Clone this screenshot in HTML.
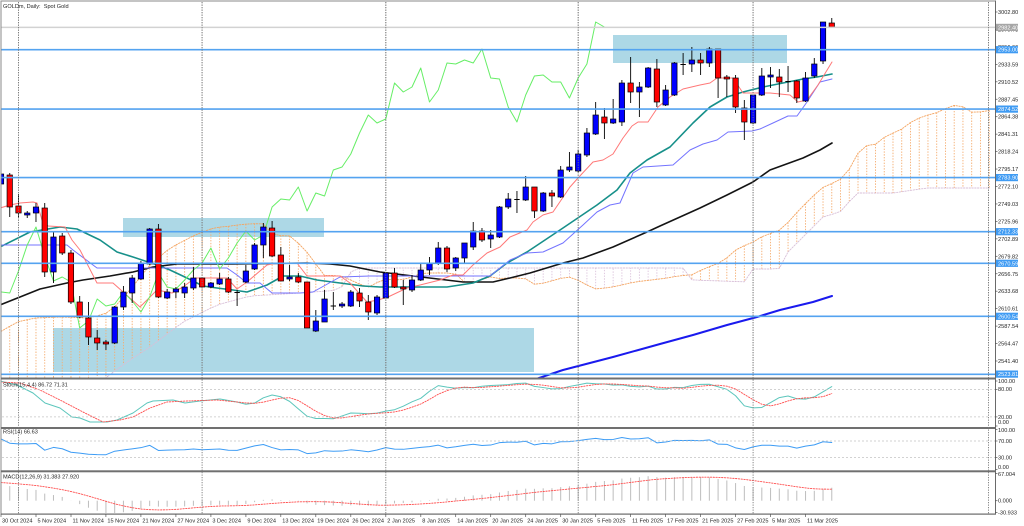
<!DOCTYPE html>
<html><head><meta charset="utf-8">
<style>
html,body{margin:0;padding:0;background:#fff;width:1024px;height:526px;overflow:hidden}
svg{display:block}
text{font-family:"Liberation Sans",Arial,sans-serif;font-size:5.6px;fill:#262626}
.w{fill:#fff}
</style></head><body>
<svg id="c" width="1024" height="526" viewBox="0 0 1024 526" xmlns="http://www.w3.org/2000/svg">
<defs>
<clipPath id="cm"><rect x="1.5" y="2" width="993.5" height="375.5"/></clipPath>
<clipPath id="cs"><rect x="1.5" y="379.5" width="993.5" height="134"/></clipPath>
</defs>
<rect width="1024" height="526" fill="#fff"/>
<g id="main" clip-path="url(#cm)"></g>
<g id="subs" clip-path="url(#cs)"></g>
<g id="top" clip-path="url(#cm)"></g>
<!-- frame -->
<rect x="0.5" y="0.5" width="1" height="514" fill="#8a8a8a"/>
<rect x="0.5" y="0.5" width="995" height="1" fill="#8a8a8a"/>
<rect x="995" y="0.5" width="1" height="514" fill="#6a6a6a"/>
<rect x="1" y="377.5" width="994" height="2" fill="#707070"/>
<rect x="1" y="427" width="994" height="2" fill="#707070"/>
<rect x="1" y="470.3" width="994" height="2" fill="#707070"/>
<rect x="1" y="513.5" width="995" height="1.2" fill="#6a6a6a"/>
<g stroke="#7a7a7a" stroke-width="0.9" stroke-dasharray="1.2,1.3">
<line x1="18.5" y1="2" x2="18.5" y2="513.5"/>
<line x1="202.1" y1="2" x2="202.1" y2="513.5"/>
<line x1="385.8" y1="2" x2="385.8" y2="513.5"/>
<line x1="578.2" y1="2" x2="578.2" y2="513.5"/>
<line x1="753.1" y1="2" x2="753.1" y2="513.5"/>
<line x1="988.5" y1="2" x2="988.5" y2="513.5"/>
</g>
<!-- sub panel levels -->
<g stroke="#c4c4c4" stroke-width="0.8" stroke-dasharray="2,2">
<line x1="2" y1="389.6" x2="995" y2="389.6"/>
<line x1="2" y1="416.9" x2="995" y2="416.9"/>
<line x1="2" y1="441" x2="995" y2="441"/>
<line x1="2" y1="457.5" x2="995" y2="457.5"/>
</g>
<!-- title & panel labels -->
<text x="3" y="7.8">GOLDm, Daily:&#160; Spot Gold</text>
<text x="3" y="386.5">Stoch(15,4,4) 86.72 71.31</text>
<text x="3" y="433.5">RSI(14) 66.63</text>
<text x="3" y="478.5">MACD(12,26,9) 31.383 27.920</text>
<!-- price axis ticks -->
<g stroke="#555" stroke-width="0.7">
<line x1="995" x2="997.5" y1="12" y2="12"/><line x1="995" x2="997.5" y1="29.45" y2="29.45"/><line x1="995" x2="997.5" y1="46.9" y2="46.9"/><line x1="995" x2="997.5" y1="64.35" y2="64.35"/><line x1="995" x2="997.5" y1="81.8" y2="81.8"/><line x1="995" x2="997.5" y1="99.25" y2="99.25"/><line x1="995" x2="997.5" y1="116.7" y2="116.7"/><line x1="995" x2="997.5" y1="134.15" y2="134.15"/><line x1="995" x2="997.5" y1="151.6" y2="151.6"/><line x1="995" x2="997.5" y1="169.05" y2="169.05"/><line x1="995" x2="997.5" y1="186.5" y2="186.5"/><line x1="995" x2="997.5" y1="203.95" y2="203.95"/><line x1="995" x2="997.5" y1="221.4" y2="221.4"/><line x1="995" x2="997.5" y1="238.85" y2="238.85"/><line x1="995" x2="997.5" y1="256.3" y2="256.3"/><line x1="995" x2="997.5" y1="273.75" y2="273.75"/><line x1="995" x2="997.5" y1="291.2" y2="291.2"/><line x1="995" x2="997.5" y1="308.65" y2="308.65"/><line x1="995" x2="997.5" y1="326.1" y2="326.1"/><line x1="995" x2="997.5" y1="343.55" y2="343.55"/><line x1="995" x2="997.5" y1="361" y2="361"/>
<line x1="995" x2="997.5" y1="381" y2="381"/><line x1="995" x2="997.5" y1="389.6" y2="389.6"/><line x1="995" x2="997.5" y1="416.9" y2="416.9"/><line x1="995" x2="997.5" y1="426" y2="426"/>
<line x1="995" x2="997.5" y1="429.5" y2="429.5"/><line x1="995" x2="997.5" y1="441" y2="441"/><line x1="995" x2="997.5" y1="457.5" y2="457.5"/><line x1="995" x2="997.5" y1="469.5" y2="469.5"/>
<line x1="995" x2="997.5" y1="473.5" y2="473.5"/><line x1="995" x2="997.5" y1="500.7" y2="500.7"/><line x1="995" x2="997.5" y1="512.5" y2="512.5"/>
</g>
<g>
<text x="998" y="14">3002.80</text>
<text x="998" y="31.45">2979.73</text>
<text x="998" y="48.9">2956.66</text>
<text x="998" y="66.35">2933.59</text>
<text x="998" y="83.8">2910.52</text>
<text x="998" y="101.25">2887.45</text>
<text x="998" y="118.7">2864.38</text>
<text x="998" y="136.15">2841.31</text>
<text x="998" y="153.6">2818.24</text>
<text x="998" y="171.05">2795.17</text>
<text x="998" y="188.5">2772.10</text>
<text x="998" y="205.95">2749.03</text>
<text x="998" y="223.4">2725.96</text>
<text x="998" y="240.85">2702.89</text>
<text x="998" y="258.3">2679.82</text>
<text x="998" y="275.75">2656.75</text>
<text x="998" y="293.2">2633.68</text>
<text x="998" y="310.65">2610.61</text>
<text x="998" y="328.1">2587.54</text>
<text x="998" y="345.55">2564.47</text>
<text x="998" y="363">2541.40</text>
</g>
<!-- highlighted price labels -->
<rect x="996" y="23.8" width="22" height="7.2" fill="#a6a6a6"/><text class="w" x="998" y="29.4">2982.40</text>
<rect x="996" y="46.1" width="22" height="7.2" fill="#3f9bf3"/><text class="w" x="998" y="51.7">2953.00</text>
<rect x="996" y="105.5" width="22" height="7.2" fill="#3f9bf3"/><text class="w" x="998" y="111.1">2874.52</text>
<rect x="996" y="174" width="22" height="7.2" fill="#3f9bf3"/><text class="w" x="998" y="179.6">2783.90</text>
<rect x="996" y="228.1" width="22" height="7.2" fill="#3f9bf3"/><text class="w" x="998" y="233.7">2712.33</text>
<rect x="996" y="259.7" width="22" height="7.2" fill="#3f9bf3"/><text class="w" x="998" y="265.3">2670.59</text>
<rect x="996" y="312.7" width="22" height="7.2" fill="#3f9bf3"/><text class="w" x="998" y="318.3">2600.54</text>
<rect x="996" y="370.5" width="22" height="7.2" fill="#3f9bf3"/><text class="w" x="998" y="376.1">2523.81</text>
<!-- sub panel scale labels -->
<text x="998" y="383">100.00</text>
<text x="998" y="391.2">80.00</text>
<text x="998" y="419">20.00</text>
<text x="998" y="424">0.00</text>
<text x="998" y="432.2">100.00</text>
<text x="998" y="442.9">70.00</text>
<text x="998" y="459.4">30.00</text>
<text x="998" y="469.2">0.00</text>
<text x="998" y="476.2">67.004</text>
<text x="998" y="502.7">0.000</text>
<text x="998" y="514.3">-30.933</text>
<!-- time axis -->
<g stroke="#555" stroke-width="0.7">
<line x1="1" x2="1" y1="514" y2="517"/><line x1="36" x2="36" y1="514" y2="517"/><line x1="71" x2="71" y1="514" y2="517"/><line x1="105.9" x2="105.9" y1="514" y2="517"/><line x1="140.9" x2="140.9" y1="514" y2="517"/><line x1="175.9" x2="175.9" y1="514" y2="517"/><line x1="210.9" x2="210.9" y1="514" y2="517"/><line x1="245.9" x2="245.9" y1="514" y2="517"/><line x1="280.8" x2="280.8" y1="514" y2="517"/><line x1="315.8" x2="315.8" y1="514" y2="517"/><line x1="350.8" x2="350.8" y1="514" y2="517"/><line x1="385.8" x2="385.8" y1="514" y2="517"/><line x1="420.8" x2="420.8" y1="514" y2="517"/><line x1="455.7" x2="455.7" y1="514" y2="517"/><line x1="490.7" x2="490.7" y1="514" y2="517"/><line x1="525.7" x2="525.7" y1="514" y2="517"/><line x1="560.7" x2="560.7" y1="514" y2="517"/><line x1="595.7" x2="595.7" y1="514" y2="517"/><line x1="630.6" x2="630.6" y1="514" y2="517"/><line x1="665.6" x2="665.6" y1="514" y2="517"/><line x1="700.6" x2="700.6" y1="514" y2="517"/><line x1="735.6" x2="735.6" y1="514" y2="517"/><line x1="770.6" x2="770.6" y1="514" y2="517"/><line x1="805.5" x2="805.5" y1="514" y2="517"/>
</g>
<g>
<text x="2" y="522.5">30 Oct 2024</text>
<text x="37.5" y="522.5">5 Nov 2024</text>
<text x="72.5" y="522.5">11 Nov 2024</text>
<text x="107.4" y="522.5">15 Nov 2024</text>
<text x="142.4" y="522.5">21 Nov 2024</text>
<text x="177.4" y="522.5">27 Nov 2024</text>
<text x="212.4" y="522.5">3 Dec 2024</text>
<text x="247.4" y="522.5">9 Dec 2024</text>
<text x="282.3" y="522.5">13 Dec 2024</text>
<text x="317.3" y="522.5">19 Dec 2024</text>
<text x="352.3" y="522.5">26 Dec 2024</text>
<text x="387.3" y="522.5">2 Jan 2025</text>
<text x="422.3" y="522.5">8 Jan 2025</text>
<text x="457.2" y="522.5">14 Jan 2025</text>
<text x="492.2" y="522.5">20 Jan 2025</text>
<text x="527.2" y="522.5">24 Jan 2025</text>
<text x="562.2" y="522.5">30 Jan 2025</text>
<text x="597.2" y="522.5">5 Feb 2025</text>
<text x="632.1" y="522.5">11 Feb 2025</text>
<text x="667.1" y="522.5">17 Feb 2025</text>
<text x="702.1" y="522.5">21 Feb 2025</text>
<text x="737.1" y="522.5">27 Feb 2025</text>
<text x="772.1" y="522.5">5 Mar 2025</text>
<text x="807" y="522.5">11 Mar 2025</text>
</g>
</svg>
<script>
(function(){
const NS='http://www.w3.org/2000/svg';
function mk(t,a,p){const e=document.createElementNS(NS,t);for(const k in a)e.setAttribute(k,a[k]);p.appendChild(e);return e;}
const M=document.getElementById('main'),S=document.getElementById('subs'),TP=document.getElementById('top');
const X=i=>1+8.745*i;
function pl(pts,p,st){return mk('polyline',Object.assign({points:pts.map(q=>q[0].toFixed(2)+','+q[1].toFixed(2)).join(' '),fill:'none','stroke-linejoin':'round','stroke-linecap':'round'},st),p);}
function ip(P,x){if(x<=P[0][0])return P[0][1];for(let i=1;i<P.length;i++){if(x<=P[i][0]){const a=P[i-1],b=P[i];return a[1]+(b[1]-a[1])*(x-a[0])/(b[0]-a[0]);}}return P[P.length-1][1];}
const C=[
[174,184,172,186,'b'],[175,207,173,217,'r'],[206,213,194,218,'r'],[213,215,211,218,'b'],[207,213,203,222,'b'],
[208,272,203,277,'r'],[237,272,232,283,'b'],[236,253,233,255,'r'],[253,302,250,304,'r'],[302,317,296,318,'r'],
[318,337,302,345,'r'],[338,343,330,350,'r'],[342,344,340,350,'r'],[307,343,306,344,'b'],[292,307,286,310,'b'],
[278,293,275,303,'b'],[263,279,261,280,'b'],[229,264,228,265,'b'],[229,297,224,298,'r'],[292,298,289,299,'b'],
[289,292,287,298,'b'],[287,293,283,298,'b'],[278,288,267,290,'b'],[278,287,277,288,'r'],[283,287,282,288,'b'],
[279,284,273,285,'b'],[279,292,277,293,'r'],[292,293,290,306,'r'],[271,282,265,283,'b'],[245,269,243,270,'b'],
[227,245,223,258,'b'],[228,256,221,257,'r'],[255,281,247,281,'r'],[277,279,265,281,'b'],[277,282,273,283,'r'],
[282,328,282,328,'r'],[321,331,310,332,'b'],[299,322,290,322,'b'],[305.5,306.5,292,310,'d'],[304,306,302,308,'b'],
[292,306,290,307,'b'],[293,301,288,307,'r'],[302,312,295,320,'r'],[297,313,295,315,'b'],[273,298,272,298,'b'],
[273,287,268,288,'r'],[287,289,280,305,'r'],[280,290,275,292,'b'],[270,280,263,281,'b'],[263,270,257,275,'b'],
[248,263,242,265,'b'],[248,269,246,272,'r'],[258,268,257,271,'b'],[243,258,243,264,'b'],[231,247,222,250,'b'],
[231,240,228,242,'r'],[235,239,230,248,'b'],[207,237,206,238,'b'],[199,207,193,209,'b'],[199,200,191,213,'r'],
[187,200,176,201,'b'],[187,211,187,218,'r'],[193,211,192,212,'b'],[193,196,190,207,'r'],[170,197,166,198,'b'],
[167,170,152,172,'b'],[154,171,150,172,'b'],[133,155,128,157,'b'],[115,134,102,135,'b'],[117,123,108,139,'r'],
[119,123,99,124,'b'],[83,122,80,126,'b'],[83,92,57,103,'r'],[87,92,82,117,'b'],[68,87,67,88,'b'],
[69,102,59,107,'r'],[90,105,85,106,'b'],[63,95,62,96,'b'],[64,65,53,75,'b'],[60,64,47,72,'b'],
[60,63,53,75,'r'],[49,63,47,67,'b'],[49,78,49,98,'r'],[77,79,75,97,'r'],[78,107,75,113,'r'],
[108,122,100,140,'r'],[95,123,95,124,'b'],[76,95,68,96,'b'],[75,77,67,88,'b'],[77,82,69,97,'r'],
[81,82,66,92,'r'],[81,98,80,103,'r'],[78,101,72,102,'b'],[64,76,58,78,'b'],[22,61,22,64,'b'],[23,27,18,28,'r']];
const N=C.length;
const CL=C.map(c=>c[4]=='b'?c[0]:c[4]=='r'?c[1]:(c[0]+c[1])/2);
const price=y=>3002.8-(y-12)/0.7564;

// rectangles
mk('rect',{x:123,y:218,width:201,height:19,fill:'#add8e6'},M);
mk('rect',{x:53,y:328,width:481,height:44,fill:'#add8e6'},M);
mk('rect',{x:613,y:35,width:174,height:28,fill:'#add8e6'},M);
// separators redraw over rects
[18.5,202.1,385.8,578.2,753.1,988.5].forEach(x=>mk('line',{x1:x,x2:x,y1:2,y2:378,stroke:'#7a7a7a','stroke-width':0.9,'stroke-dasharray':'1.2,1.3'},M));

const T=[[0,208],[10,205],[20,203],[33,202],[37,203],[42,220],[48,226],[65,227],[72,240],[80,250],[97,283],[113,283],[140,307],[157,290],[172,293],[183,287],[195,278],[227,278],[237,289],[247,282],[267,265],[277,263],[297,263],[307,276],[340,276],[350,283],[367,302],[378,300],[388,297],[407,288],[420,285],[440,280],[453,275],[463,275],[473,265],[487,253],[500,247],[510,237],[527,230],[533,222],[543,215],[553,212],[570,187],[578,178],[593,162],[603,160],[613,154],[623,138],[632,126],[638,122],[648,122],[658,107],[670,97],[683,89],[700,85],[710,83],[717,78],[733,78],[743,93],[770,93],[790,95],[798,102],[807,100],[818,85],[832,62]];
const K=[[0,245],[67,245],[73,250],[97,268],[227,268],[237,275],[247,283],[260,283],[272,293],[300,293],[313,292],[340,277],[370,276],[490,276],[510,260],[527,253],[543,252],[563,243],[583,225],[597,212],[610,205],[620,203],[633,173],[643,167],[673,165],[690,150],[703,144],[717,140],[728,132],[752,131],[760,129],[773,123],[788,116],[797,116],[807,102],[820,82],[832,79]];
const TE=[[0,247],[30,232],[60,227],[77,229],[100,240],[117,252],[133,257],[157,265],[170,270],[187,278],[203,286],[217,288],[233,290],[247,292],[267,285],[283,276],[300,276],[317,280],[340,283],[363,286],[380,287],[413,287],[447,287],[473,283],[490,276],[507,263],[527,252],[563,228],[597,205],[617,190],[630,173],[647,160],[670,147],[693,123],[710,107],[727,97],[743,92],[763,87],[783,83],[803,79],[817,77],[832,74]];
const BK=[[0,305],[20,297],[40,289],[67,283],[83,280],[110,276],[133,272],[153,267],[177,264],[233,264],[307,263],[330,264],[350,266],[380,272],[413,276],[463,282],[493,282],[510,278],[530,273],[563,263],[583,258],[613,247],[647,232],[660,226],[680,217],[700,208],[727,195],[753,182],[770,170],[803,158],[820,150],[832,143]];
const BL=[[525,382],[533,380],[563,370],[613,357],[660,344],[693,335],[727,325],[757,317],[780,310],[813,302],[832,296]];
const AL=[[0,332],[17,322],[35,318],[60,317],[90,318],[110,312],[130,290],[150,265],[170,248],[195,235],[213,228],[228,226]];
const B=[[0,395],[60,392],[100,382],[127,362],[150,347],[183,322],[217,305],[250,296],[300,293],[340,290],[352,270],[360,268],[683,268],[692,280],[750,282],[753,269],[779,269],[787,253],[810,230],[823,217],[840,212],[857,193],[893,193],[927,188],[1000,188]];
const SH=227.37;
const Af=x=>x<SH?ip(AL,x):(ip(T,x-SH)+ip(K,x-SH))/2;
// cloud
const ap=[],bp=[];
for(let i=0;i<=114;i++){const x=X(i);if(x>994)break;const a=Af(x),b=ip(B,x);ap.push([x,a]);bp.push([x,b]);
 mk('line',{x1:x,x2:x,y1:a,y2:b,stroke:a<b?'#f5ad70':'#dcc3dc','stroke-width':0.9,'stroke-dasharray':'1.4,1.4'},M);}
pl(ap,M,{stroke:'#f4a460','stroke-width':0.9,'stroke-dasharray':'1.4,1.4'});
pl(bp,M,{stroke:'#d8bfd8','stroke-width':0.9,'stroke-dasharray':'1.4,1.4'});
// MAs
pl(BL,M,{stroke:'#1a1aee','stroke-width':2});
pl(BK,M,{stroke:'#141414','stroke-width':1.6});
pl(TE,M,{stroke:'#17908a','stroke-width':1.6});
pl(K,M,{stroke:'#7474ff','stroke-width':1});
pl(T,M,{stroke:'#ff7878','stroke-width':1});
const CH=[];for(let i=0;i+26<N;i++)CH.push([X(i),CL[i+26]]);
pl(CH,M,{stroke:'#66ee66','stroke-width':1});
// candles
C.forEach((c,i)=>{const x=X(i);
 mk('line',{x1:x,x2:x,y1:c[2],y2:c[3],stroke:'#000','stroke-width':0.9},M);
 if(c[4]=='d'||c[1]-c[0]<1.2){mk('line',{x1:x-2.7,x2:x+2.7,y1:(c[0]+c[1])/2,y2:(c[0]+c[1])/2,stroke:'#000','stroke-width':1},M);}
 else mk('rect',{x:x-2.7,y:c[0],width:5.4,height:c[1]-c[0],fill:c[4]=='b'?'#0000ff':'#ff0000',stroke:'#000','stroke-width':0.7},M);
});
// horizontal lines
mk('line',{x1:1,x2:995,y1:27.4,y2:27.4,stroke:'#d2d2d2','stroke-width':1.5},TP);
[49.7,109.1,177.6,231.7,263.3,316.3,374.3].forEach(y=>mk('line',{x1:1,x2:995,y1:y,y2:y,stroke:'#54a3f0','stroke-width':1.6},TP));

// ---- Stochastic
const sy=v=>426-0.455*v;
function kAt(i){let n=0,d=0;for(let j=i-3;j<=i;j++){let hh=1e9,ll=-1e9;for(let k=j-14;k<=j;k++){hh=Math.min(hh,C[k][2]);ll=Math.max(ll,C[k][3]);}n+=ll-CL[j];d+=ll-hh;}return 100*n/d;}
const Kv=[];for(let i=17;i<N;i++)Kv[i]=kAt(i);
const sm=[[0,381],[17,385],[33,393],[45,403],[60,408],[72,417],[80,418],[90,422],[107,422],[117,420],[133,413],[147,403],[153,401],[173,400],[185,403],[200,401],[220,399],[237,402]];
const ss=[[0,382],[20,383],[40,390],[60,400],[83,412],[103,422],[120,420],[133,417],[150,408],[167,402],[187,401],[217,400],[237,402]];
for(let i=28;i<N;i++){sm.push([X(i),sy(Kv[i])]);ss.push([X(i),sy((Kv[i]+Kv[i-1]+Kv[i-2]+Kv[i-3])/4)]);}
pl(sm,S,{stroke:'#5cc6bc','stroke-width':1});
pl(ss,S,{stroke:'#ff4d4d','stroke-width':0.9,'stroke-dasharray':'1.4,1.4'});

// ---- RSI
const ry=v=>469.9-0.4125*v;
let ag=12,al=4;const rp=[[X(0),ry(75)]];
for(let i=1;i<N;i++){const ch=CL[i-1]-CL[i];const g=ch>0?ch:0,l=ch<0?-ch:0;ag=(ag*13+g)/14;al=(al*13+l)/14;rp.push([X(i),ry(100-100/(1+ag/al))]);}
pl(rp,S,{stroke:'#3d9cf5','stroke-width':1});

// ---- MACD
const my=v=>500.7-0.4135*v;
let e12=2745,e26=2707;const a12=2/13,a26=2/27;const mh=[48,47,46,45,44,43,42,41];const sg=[];
for(let i=0;i<N;i++){const p=price(CL[i]);e12+=a12*(p-e12);e26+=a26*(p-e26);const m=e12-e26;mh.push(m);
 let s=0;for(let k=mh.length-9;k<mh.length;k++)s+=mh[k];sg.push([X(i),my(s/9)]);
 mk('line',{x1:X(i),x2:X(i),y1:my(0),y2:my(m),stroke:'#bdbdbd','stroke-width':1},S);}
pl(sg,S,{stroke:'#ff4d4d','stroke-width':0.9,'stroke-dasharray':'1.4,1.4'});
})();
</script>
</body></html>
